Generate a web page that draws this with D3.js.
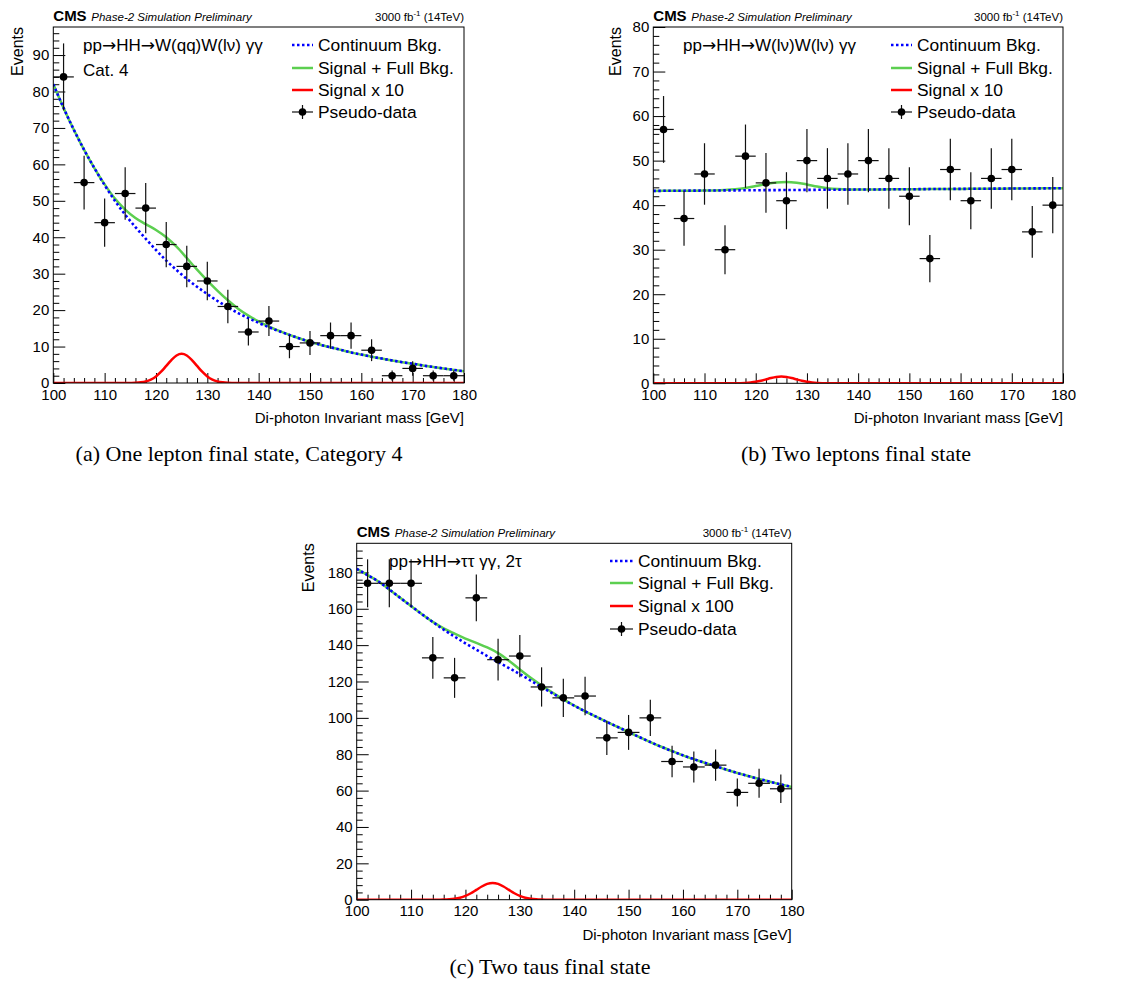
<!DOCTYPE html>
<html><head><meta charset="utf-8">
<script src="https://cdn.jsdelivr.net/npm/d3@7"></script>
<style>
body{margin:0;background:#fff;}
svg{display:block;background:#fff;}
text{font-family:"Liberation Sans",Arial,Helvetica,sans-serif;fill:#000;}
</style></head><body>
<svg id="chart" width="1121" height="985"></svg>
<script>
// ---------------- DATA ----------------
const massBins = [102,106,110,114,118,122,126,130,134,138,142,146,150,154,158,162,166,170,174,178];
const xTicks = [100,110,120,130,140,150,160,170,180];
const yTicksA = [0,10,20,30,40,50,60,70,80,90];
const yTicksB = [0,10,20,30,40,50,60,70,80];
const yTicksC = [0,20,40,60,80,100,120,140,160,180];

// pseudo-data (events per 4 GeV) and their errors
const dataA = [84,55,44,52,48,38,32,28,21,14,17,10,11,13,13,9,2,4,2,2];
const errA  = [9.2,7.4,6.6,7.2,6.9,6.2,5.7,5.3,4.6,3.7,4.1,3.2,3.3,3.6,3.6,3.0,1.4,2.0,1.4,1.4];
const dataB = [57,37,47,30,51,45,41,50,46,47,50,46,42,28,48,41,46,48,34,40];
const errB  = [7.5,6.1,6.9,5.5,7.1,6.7,6.4,7.1,6.8,6.9,7.1,6.8,6.5,5.3,6.9,6.4,6.8,6.9,5.8,6.3];
const dataC = [174,174,174,133,122,166,132,134,117,111,112,89,92,100,76,73,74,59,64,61];
const errC  = [13.2,13.2,13.2,11.5,11.0,12.9,11.5,11.6,10.8,10.5,10.6,9.4,9.6,10.0,8.7,8.5,8.6,7.7,8.0,7.8];

// fitted curves sampled along the mass axis
const curveMass = [100,102,104,106,108,110,112,114,116,118,120,122,124,126,128,130,132,134,136,138,140,142,144,146,148,150,152,154,156,158,160,162,164,166,168,170,172,174,176,178,180];
const bkgA = [82.0,75.5,69.5,64.0,59.0,54.3,50.0,46.2,42.8,39.6,36.5,33.6,31.0,28.6,26.4,24.4,22.5,20.8,19.2,17.8,16.5,15.3,14.2,13.2,12.2,11.3,10.5,9.8,9.1,8.4,7.8,7.2,6.7,6.2,5.7,5.3,4.8,4.4,4.0,3.6,3.2];
const sigBkgA = [82.0,75.5,69.5,64.0,59.0,54.5,50.6,47.6,45.3,43.6,42.0,40.0,37.4,34.3,31.1,28.1,25.3,22.7,20.4,18.5,16.9,15.5,14.3,13.2,12.2,11.3,10.5,9.8,9.1,8.4,7.8,7.2,6.7,6.2,5.7,5.3,4.8,4.4,4.0,3.6,3.2];
const bkgB = [43.20,43.22,43.23,43.25,43.26,43.28,43.29,43.31,43.32,43.34,43.35,43.37,43.38,43.40,43.41,43.43,43.44,43.46,43.47,43.49,43.50,43.52,43.53,43.55,43.56,43.58,43.59,43.61,43.62,43.64,43.65,43.67,43.68,43.70,43.71,43.73,43.74,43.76,43.77,43.79,43.80];
const sigBkgB = [43.20,43.22,43.23,43.25,43.26,43.28,43.31,43.40,43.56,43.86,44.28,44.75,45.10,45.22,45.05,44.65,44.18,43.82,43.62,43.53,43.51,43.52,43.53,43.55,43.56,43.58,43.59,43.61,43.62,43.64,43.65,43.67,43.68,43.70,43.71,43.73,43.74,43.76,43.77,43.79,43.80];
const bkgC = [182.0,178.5,175.0,170.6,166.0,161.5,157.0,152.7,148.5,144.7,141.0,137.5,134.0,130.7,127.4,124.0,120.5,117.0,113.5,110.0,106.7,103.6,100.7,97.8,95.0,92.2,89.4,86.7,84.1,81.7,79.4,77.3,75.3,73.4,71.5,69.7,68.0,66.4,64.9,63.4,62.0];
const sigBkgC = [182.0,178.5,175.0,170.6,166.0,161.5,157.0,152.8,149.2,146.3,143.6,141.2,138.7,135.6,131.4,126.6,122.0,117.8,113.9,110.2,106.8,103.6,100.7,97.8,95.0,92.2,89.4,86.7,84.1,81.7,79.4,77.3,75.3,73.4,71.5,69.7,68.0,66.4,64.9,63.4,62.0];

const signalMass = [100,114,115,116,117,118,119,120,121,122,123,124,125,126,127,128,129,130,131,132,133,134,135,136,180];
const signalA = [0,0,0.02,0.06,0.18,0.43,0.94,1.81,3.09,4.69,6.30,7.54,8.00,7.54,6.30,4.69,3.09,1.81,0.94,0.43,0.18,0.06,0.02,0,0];
const signalB = [0,0,0,0.01,0.03,0.08,0.18,0.34,0.58,0.88,1.18,1.41,1.50,1.41,1.18,0.88,0.58,0.34,0.18,0.08,0.03,0.01,0,0,0];
const signalC = [0,0,0.03,0.07,0.20,0.50,1.09,2.08,3.55,5.39,7.25,8.67,9.20,8.67,7.25,5.39,3.55,2.08,1.09,0.50,0.20,0.07,0.03,0,0];

const legendLabels = ["Continuum Bkg.","Signal + Full Bkg.","Signal x 10","Pseudo-data"];
const legendLabelsC = ["Continuum Bkg.","Signal + Full Bkg.","Signal x 100","Pseudo-data"];
const xTitle = "Di-photon Invariant mass [GeV]";
const yTitle = "Events";

// ---------------- STYLE / LAYOUT ----------------
const BLUE = "#0000ff", GREEN = "#5ccf50", RED = "#ff0000";
const svg = d3.select("#chart");

const panels = [
  {key:"a", left:53.3, right:464, top:27, bottom:383, ymax:97.7, yTicks:yTicksA, yMinor:2,
   data:dataA, err:errA, bkg:bkgA, sb:sigBkgA, sig:signalA, labels:legendLabels,
   eventsX:17, symX0:292, symX1:313, textX:318, rowY:[45,68,90,112],
   titles:[{t:"pp\u2192HH\u2192W(qq)W(l\u03bd) \u03b3\u03b3", x:83, y:45},{t:"Cat. 4", x:83, y:70}],
   caption:"(a) One lepton final state, Category 4", capX:239, capY:461},
  {key:"b", left:653.3, right:1063, top:27, bottom:383.3, ymax:80, yTicks:yTicksB, yMinor:2,
   data:dataB, err:errB, bkg:bkgB, sb:sigBkgB, sig:signalB, labels:legendLabels,
   eventsX:615, symX0:891, symX1:912, textX:917, rowY:[45,68,90,112],
   titles:[{t:"pp\u2192HH\u2192W(l\u03bd)W(l\u03bd) \u03b3\u03b3", x:683, y:45}],
   caption:"(b) Two leptons final state", capX:856, capY:461},
  {key:"c", left:356.7, right:791.7, top:543.3, bottom:899.7, ymax:196, yTicks:yTicksC, yMinor:4,
   data:dataC, err:errC, bkg:bkgC, sb:sigBkgC, sig:signalC, labels:legendLabelsC,
   eventsX:308, symX0:610, symX1:633, textX:638, rowY:[561,583,606,629],
   titles:[{t:"pp\u2192HH\u2192\u03c4\u03c4 \u03b3\u03b3, 2\u03c4", x:389, y:561}],
   caption:"(c) Two taus final state", capX:550, capY:974}
];

function drawPanel(p){
  const x = d3.scaleLinear().domain([100,180]).range([p.left,p.right]);
  const y = d3.scaleLinear().domain([0,p.ymax]).range([p.bottom,p.top]);
  const g = svg.append("g").attr("class","panel-"+p.key);
  const clipId = "clip-"+p.key;
  svg.append("clipPath").attr("id",clipId).append("rect")
    .attr("x",p.left).attr("y",p.top).attr("width",p.right-p.left).attr("height",p.bottom-p.top);

  // axes
  const yMinorVals = d3.range(0,p.ymax,p.yMinor).filter(v=>!p.yTicks.includes(v));
  const xMinorVals = d3.range(100,180,2).filter(v=>!xTicks.includes(v));
  const styleAxis = sel => { sel.select(".domain").remove();
    sel.selectAll("line").attr("stroke","#000").attr("stroke-width",1);
    sel.selectAll("text").attr("font-size",15).attr("font-family","Liberation Sans, Arial, sans-serif").attr("fill","#000"); };
  g.append("g").attr("transform",`translate(${p.left},0)`)
    .call(d3.axisLeft(y).tickValues(yMinorVals).tickSize(-6).tickFormat("")).call(styleAxis);
  g.append("g").attr("transform",`translate(${p.left},0)`)
    .call(d3.axisLeft(y).tickValues(p.yTicks).tickSize(-12).tickPadding(4).tickFormat(d3.format("d"))).call(styleAxis);
  g.append("g").attr("transform",`translate(0,${p.bottom})`)
    .call(d3.axisBottom(x).tickValues(xMinorVals).tickSize(-5).tickFormat("")).call(styleAxis);
  g.append("g").attr("transform",`translate(0,${p.bottom})`)
    .call(d3.axisBottom(x).tickValues(xTicks).tickSize(-10).tickPadding(6).tickFormat(d3.format("d"))).call(styleAxis);

  // curves
  const line = d3.line().x(d=>x(d[0])).y(d=>y(d[1])).curve(d3.curveMonotoneX);
  const cg = g.append("g").attr("clip-path",`url(#${clipId})`);
  cg.append("path").attr("d",line(d3.zip(curveMass,p.sb))).attr("fill","none")
    .attr("stroke",GREEN).attr("stroke-width",2.5);
  cg.append("path").attr("d",line(d3.zip(curveMass,p.bkg))).attr("fill","none")
    .attr("stroke",BLUE).attr("stroke-width",2.6).attr("stroke-dasharray","2.5,2.5");
  cg.append("path").attr("d",line(d3.zip(signalMass,p.sig))).attr("fill","none")
    .attr("stroke",RED).attr("stroke-width",2.5);

  // pseudo-data
  const pts = massBins.map((m,i)=>({m, v:p.data[i], e:p.err[i]}));
  const dg = g.append("g");
  dg.selectAll("line.h").data(pts).join("line").attr("class","h")
    .attr("x1",d=>x(d.m-2)).attr("x2",d=>x(d.m+2)).attr("y1",d=>y(d.v)).attr("y2",d=>y(d.v))
    .attr("stroke","#111").attr("stroke-width",1.2);
  dg.selectAll("line.v").data(pts).join("line").attr("class","v")
    .attr("x1",d=>x(d.m)).attr("x2",d=>x(d.m)).attr("y1",d=>y(Math.max(0,d.v-d.e))).attr("y2",d=>y(d.v+d.e))
    .attr("stroke","#111").attr("stroke-width",1.2);
  dg.selectAll("circle").data(pts).join("circle")
    .attr("cx",d=>x(d.m)).attr("cy",d=>y(d.v)).attr("r",3.8).attr("fill","#000");

  // frame
  g.append("rect").attr("x",p.left).attr("y",p.top).attr("width",p.right-p.left).attr("height",p.bottom-p.top)
    .attr("fill","none").attr("stroke","#000").attr("stroke-width",1);

  // header
  g.append("text").attr("x",p.left).attr("y",p.top-6).attr("font-size",15).attr("font-weight","bold").text("CMS");
  g.append("text").attr("x",p.left+38).attr("y",p.top-6).attr("font-size",11.5).attr("font-style","italic")
    .text("Phase-2 Simulation Preliminary");
  const lumi = g.append("text").attr("x",p.right).attr("y",p.top-6).attr("font-size",11.5).attr("text-anchor","end");
  lumi.append("tspan").text("3000 fb");
  lumi.append("tspan").attr("font-size",8).attr("dy",-5).text("-1");
  lumi.append("tspan").attr("dy",5).text(" (14TeV)");

  // axis titles
  g.append("text").attr("x",p.right).attr("y",p.bottom+40).attr("text-anchor","end").attr("font-size",15).text(xTitle);
  g.append("text").attr("transform",`translate(${p.eventsX},${p.top}) rotate(-90)`)
    .attr("text-anchor","end").attr("dy","0.35em").attr("font-size",16).text(yTitle);

  // titles (arrows drawn with a font that has a full-size arrow glyph)
  p.titles.forEach(t=>{
    const tx = g.append("text").attr("x",t.x).attr("y",t.y).attr("dy","0.35em").attr("font-size",17);
    t.t.split(/(\u2192)/).forEach(part=>{
      if(!part) return;
      const sp = tx.append("tspan").text(part);
      if(part==="\u2192") sp.attr("font-family","DejaVu Sans, sans-serif").style("font-family","'DejaVu Sans', sans-serif");
    });
  });

  // legend
  const lg = g.append("g");
  const [r0,r1,r2,r3] = p.rowY;
  lg.append("line").attr("x1",p.symX0).attr("x2",p.symX1).attr("y1",r0).attr("y2",r0)
    .attr("stroke",BLUE).attr("stroke-width",2.6).attr("stroke-dasharray","2.5,2.5");
  lg.append("line").attr("x1",p.symX0).attr("x2",p.symX1).attr("y1",r1).attr("y2",r1)
    .attr("stroke",GREEN).attr("stroke-width",2.5);
  lg.append("line").attr("x1",p.symX0).attr("x2",p.symX1).attr("y1",r2).attr("y2",r2)
    .attr("stroke",RED).attr("stroke-width",2.5);
  const cx = (p.symX0+p.symX1)/2;
  lg.append("line").attr("x1",p.symX0).attr("x2",p.symX1).attr("y1",r3).attr("y2",r3).attr("stroke","#111").attr("stroke-width",1.2);
  lg.append("line").attr("x1",cx).attr("x2",cx).attr("y1",r3-7).attr("y2",r3+7).attr("stroke","#111").attr("stroke-width",1.2);
  lg.append("circle").attr("cx",cx).attr("cy",r3).attr("r",3.8).attr("fill","#000");
  p.labels.forEach((lab,i)=> lg.append("text").attr("x",p.textX).attr("y",p.rowY[i]).attr("dy","0.35em")
    .attr("font-size",17.4).text(lab));

  // caption
  svg.append("text").attr("x",p.capX).attr("y",p.capY).attr("text-anchor","middle")
    .style("font-family","'Liberation Serif', 'Times New Roman', serif")
    .attr("font-size",22).text(p.caption);
}
panels.forEach(drawPanel);
</script>
</body></html>
